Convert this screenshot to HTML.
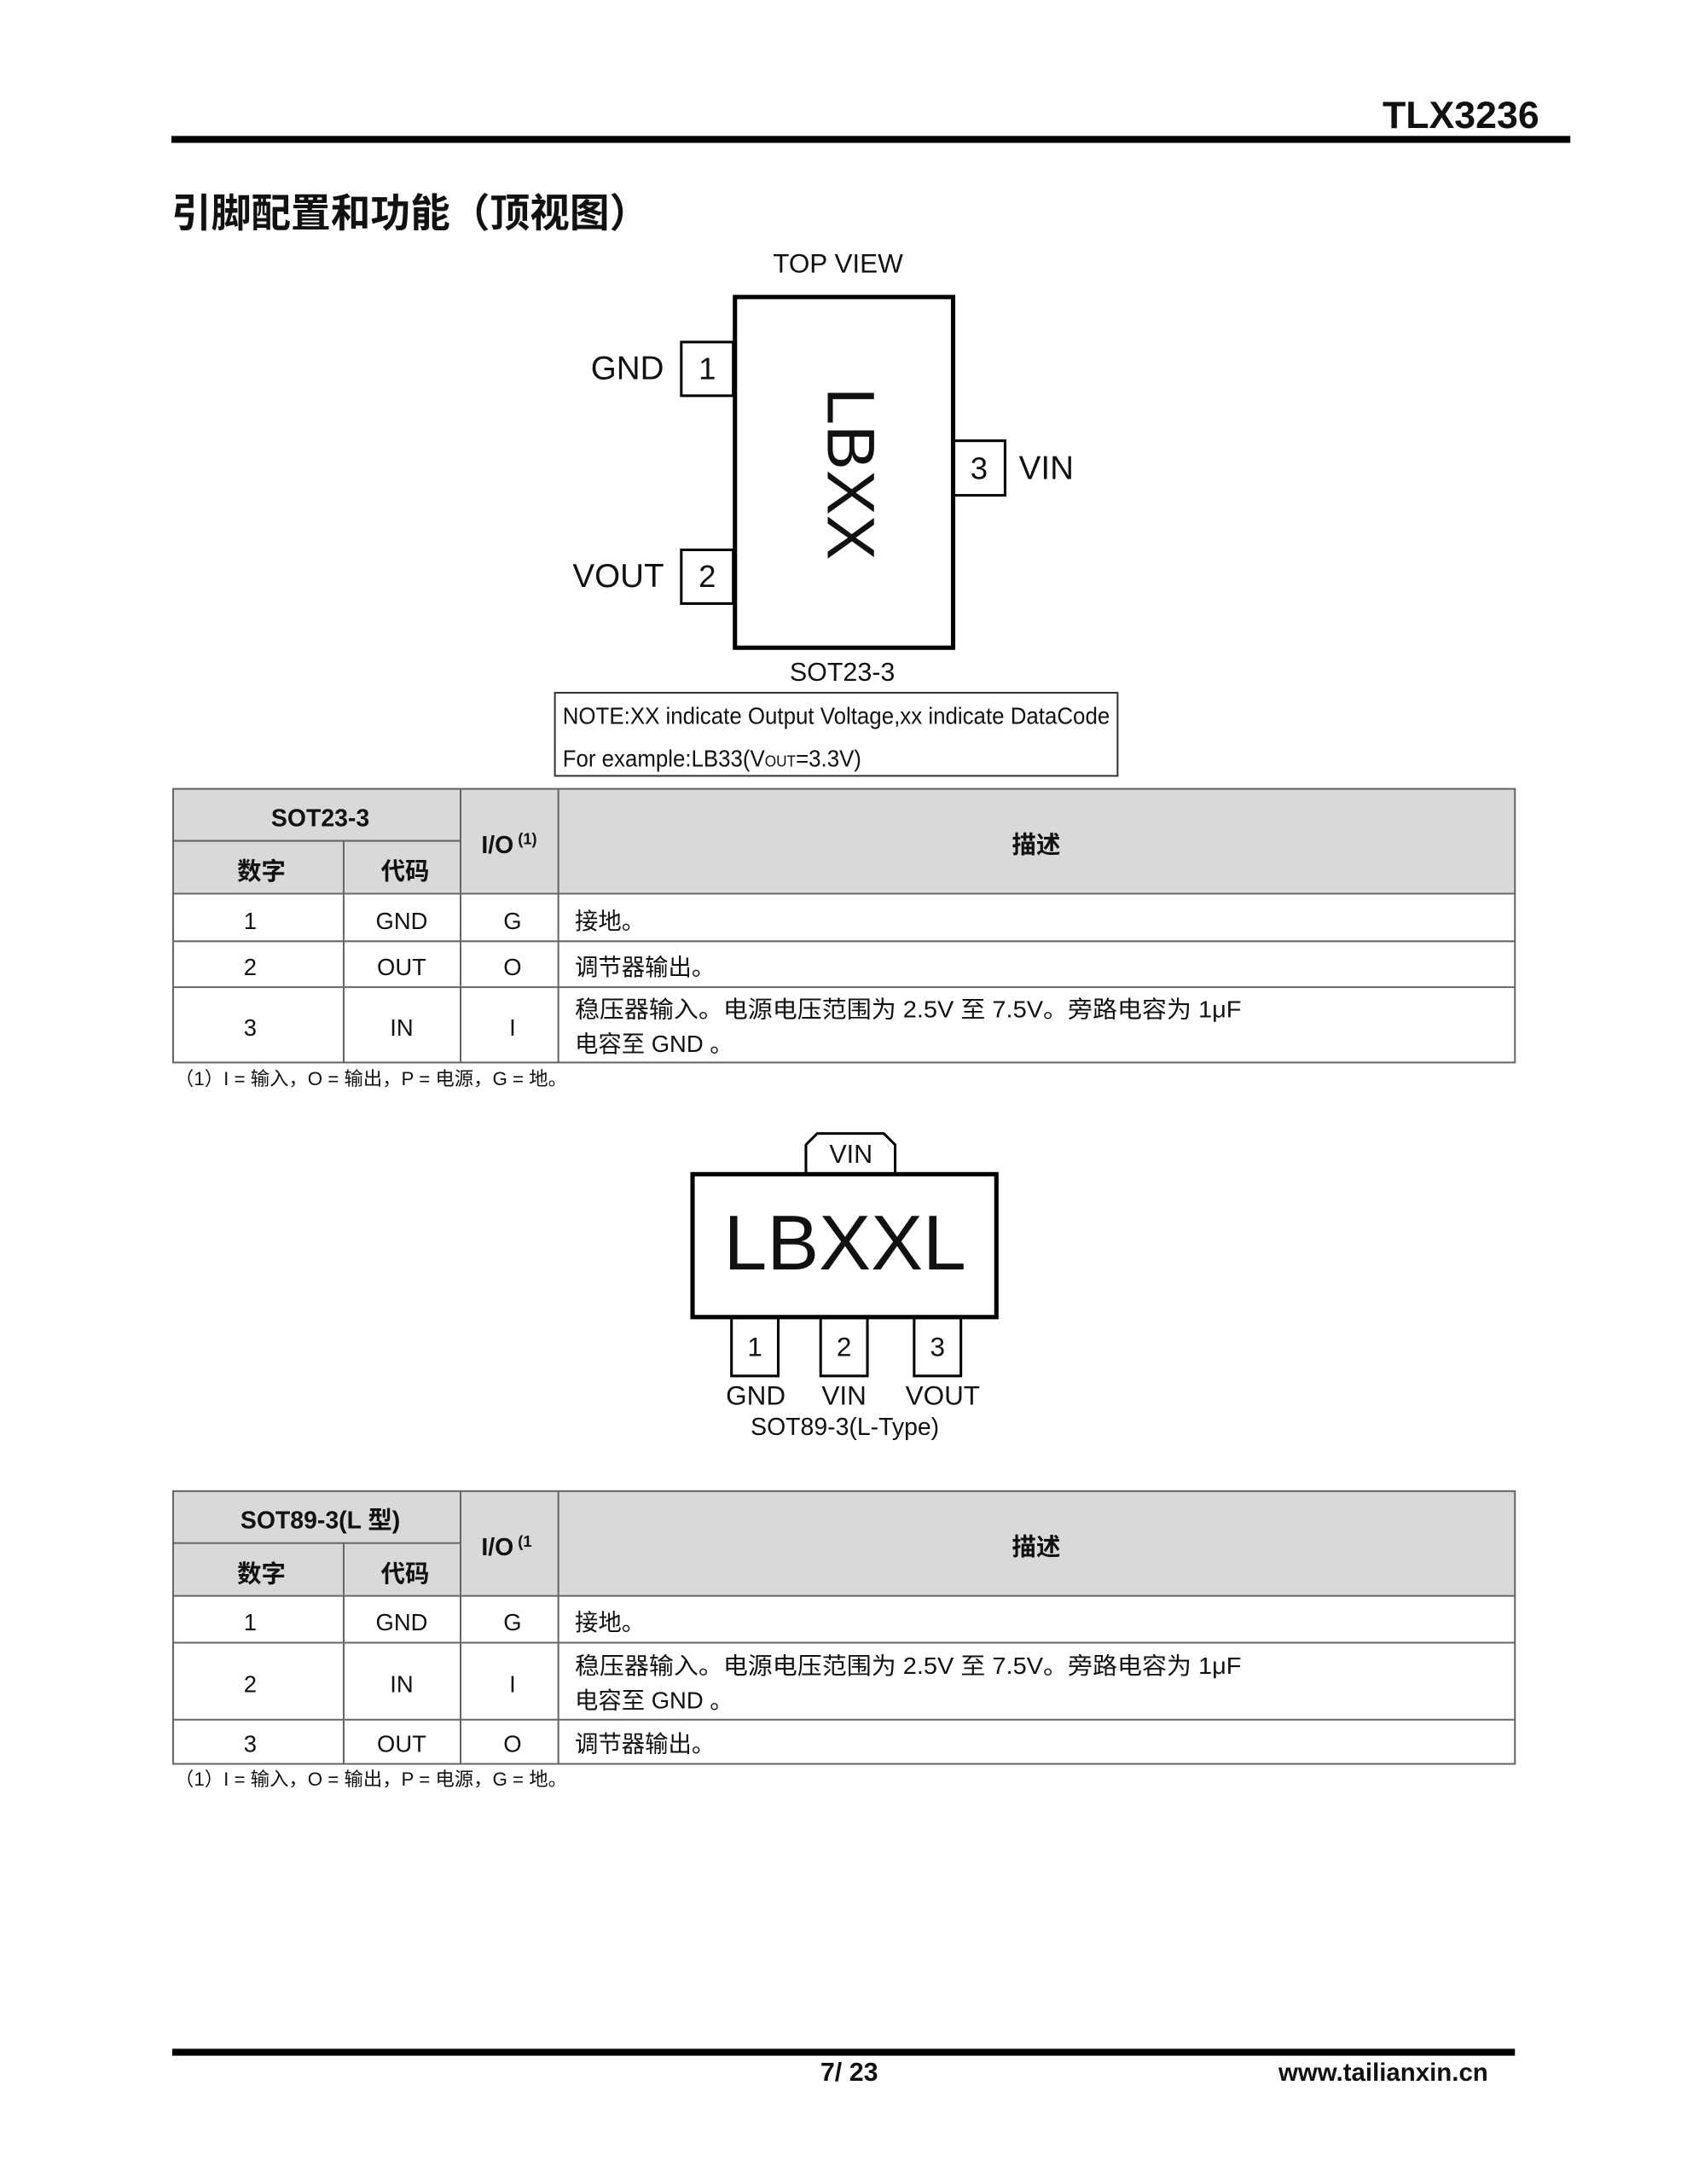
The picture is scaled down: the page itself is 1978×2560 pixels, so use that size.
<!DOCTYPE html>
<html><head><meta charset="utf-8"><style>
html,body{margin:0;padding:0;background:#fff}
svg{display:block}
text{font-family:"Liberation Sans","Noto Sans CJK SC",sans-serif;fill:#111}
.b{font-weight:bold}
</style></head><body>
<svg width="1978" height="2560" viewBox="0 0 1978 2560" xmlns="http://www.w3.org/2000/svg">
<g transform="scale(1.015)">
<!-- header -->
<text x="1778" y="148" font-size="44" class="b" text-anchor="end">TLX3236</text>
<rect x="198" y="157" width="1616" height="8" fill="#000"/>
<text x="198" y="262" font-size="46" class="b">引脚配置和功能（顶视图）</text>

<!-- SOT23 diagram -->
<text x="968" y="315" font-size="31" text-anchor="middle">TOP VIEW</text>
<rect x="787" y="395" width="60" height="62" fill="#fff" stroke="#000" stroke-width="3"/>
<rect x="787" y="635" width="60" height="62" fill="#fff" stroke="#000" stroke-width="3"/>
<rect x="1101" y="509" width="60" height="63" fill="#fff" stroke="#000" stroke-width="3"/>
<rect x="849" y="343" width="252" height="405" fill="#fff" stroke="#000" stroke-width="5"/>
<text x="817" y="438" font-size="36" text-anchor="middle">1</text>
<text x="817" y="678" font-size="36" text-anchor="middle">2</text>
<text x="1131" y="553" font-size="36" text-anchor="middle">3</text>
<text x="767" y="438" font-size="38" text-anchor="end">GND</text>
<text x="767" y="678" font-size="38" text-anchor="end">VOUT</text>
<text x="1177" y="553" font-size="38">VIN</text>
<text x="0" y="0" font-size="78" text-anchor="middle" transform="translate(956,547) rotate(90)">LBXX</text>
<text x="973" y="786" font-size="30" text-anchor="middle">SOT23-3</text>
<rect x="641" y="800" width="650" height="96" fill="#fff" stroke="#333" stroke-width="2"/>
<text x="650" y="836" font-size="27" textLength="632" lengthAdjust="spacingAndGlyphs">NOTE:XX indicate Output Voltage,xx indicate DataCode</text>
<text x="650" y="885" font-size="27" textLength="345" lengthAdjust="spacingAndGlyphs">For example:LB33(V<tspan font-size="18">OUT</tspan>=3.3V)</text>

<!-- table 1 -->
<g>
<rect x="200" y="911" width="1550" height="121" fill="#d9d9d9"/>
<g stroke="#666" stroke-width="2" fill="none">
<rect x="200" y="911" width="1550" height="316"/>
<line x1="200" y1="971" x2="532" y2="971"/>
<line x1="200" y1="1032" x2="1750" y2="1032"/>
<line x1="200" y1="1087" x2="1750" y2="1087"/>
<line x1="200" y1="1140" x2="1750" y2="1140"/>
<line x1="397" y1="971" x2="397" y2="1227"/>
<line x1="532" y1="911" x2="532" y2="1227"/>
<line x1="645" y1="911" x2="645" y2="1227"/>
</g>
<text x="370" y="954" font-size="28" class="b" text-anchor="middle">SOT23-3</text>
<text x="302" y="1016" font-size="28" class="b" text-anchor="middle">数字</text>
<text x="468" y="1016" font-size="28" class="b" text-anchor="middle">代码</text>
<text x="556" y="985" font-size="28" class="b">I/O<tspan font-size="18" dy="-10"> (1)</tspan></text>
<text x="1197" y="985" font-size="28" class="b" text-anchor="middle">描述</text>
<text x="289" y="1073" font-size="27" text-anchor="middle">1</text>
<text x="464" y="1073" font-size="27" text-anchor="middle">GND</text>
<text x="592" y="1073" font-size="27" text-anchor="middle">G</text>
<text x="664" y="1073" font-size="27">接地。</text>
<text x="289" y="1126" font-size="27" text-anchor="middle">2</text>
<text x="464" y="1126" font-size="27" text-anchor="middle">OUT</text>
<text x="592" y="1126" font-size="27" text-anchor="middle">O</text>
<text x="664" y="1126" font-size="27">调节器输出。</text>
<text x="289" y="1196" font-size="27" text-anchor="middle">3</text>
<text x="464" y="1196" font-size="27" text-anchor="middle">IN</text>
<text x="592" y="1196" font-size="27" text-anchor="middle">I</text>
<text x="664" y="1175" font-size="27" textLength="770" lengthAdjust="spacingAndGlyphs">稳压器输入。电源电压范围为 2.5V 至 7.5V。旁路电容为 1μF</text>
<text x="664" y="1215" font-size="27">电容至 GND 。</text>
</g>
<text x="202" y="1253" font-size="22">（1）I = 输入，O = 输出，P = 电源，G = 地。</text>

<!-- SOT89 diagram -->
<path d="M931,1354 L931,1322 L944,1309 L1021,1309 L1034,1322 L1034,1354" fill="#fff" stroke="#000" stroke-width="3"/>
<text x="983" y="1343" font-size="30" text-anchor="middle">VIN</text>
<rect x="845" y="1522" width="54" height="67" fill="#fff" stroke="#000" stroke-width="3"/>
<rect x="948" y="1522" width="54" height="67" fill="#fff" stroke="#000" stroke-width="3"/>
<rect x="1056" y="1522" width="54" height="67" fill="#fff" stroke="#000" stroke-width="3"/>
<rect x="800" y="1356" width="351" height="165" fill="#fff" stroke="#000" stroke-width="5"/>
<text x="976" y="1466" font-size="90" text-anchor="middle">LBXXL</text>
<text x="872" y="1566" font-size="31" text-anchor="middle">1</text>
<text x="975" y="1566" font-size="31" text-anchor="middle">2</text>
<text x="1083" y="1566" font-size="31" text-anchor="middle">3</text>
<text x="873" y="1622" font-size="31" text-anchor="middle">GND</text>
<text x="975" y="1622" font-size="31" text-anchor="middle">VIN</text>
<text x="1089" y="1622" font-size="31" text-anchor="middle">VOUT</text>
<text x="976" y="1657" font-size="28" text-anchor="middle">SOT89-3(L-Type)</text>

<!-- table 2 -->
<g>
<rect x="200" y="1722" width="1550" height="121" fill="#d9d9d9"/>
<g stroke="#666" stroke-width="2" fill="none">
<rect x="200" y="1722" width="1550" height="315"/>
<line x1="200" y1="1782" x2="532" y2="1782"/>
<line x1="200" y1="1843" x2="1750" y2="1843"/>
<line x1="200" y1="1897" x2="1750" y2="1897"/>
<line x1="200" y1="1986" x2="1750" y2="1986"/>
<line x1="397" y1="1782" x2="397" y2="2037"/>
<line x1="532" y1="1722" x2="532" y2="2037"/>
<line x1="645" y1="1722" x2="645" y2="2037"/>
</g>
<text x="370" y="1765" font-size="28" class="b" text-anchor="middle">SOT89-3(L 型)</text>
<text x="302" y="1827" font-size="28" class="b" text-anchor="middle">数字</text>
<text x="468" y="1827" font-size="28" class="b" text-anchor="middle">代码</text>
<text x="556" y="1796" font-size="28" class="b">I/O<tspan font-size="18" dy="-10"> (1</tspan></text>
<text x="1197" y="1796" font-size="28" class="b" text-anchor="middle">描述</text>
<text x="289" y="1883" font-size="27" text-anchor="middle">1</text>
<text x="464" y="1883" font-size="27" text-anchor="middle">GND</text>
<text x="592" y="1883" font-size="27" text-anchor="middle">G</text>
<text x="664" y="1883" font-size="27">接地。</text>
<text x="289" y="1954" font-size="27" text-anchor="middle">2</text>
<text x="464" y="1954" font-size="27" text-anchor="middle">IN</text>
<text x="592" y="1954" font-size="27" text-anchor="middle">I</text>
<text x="664" y="1933" font-size="27" textLength="770" lengthAdjust="spacingAndGlyphs">稳压器输入。电源电压范围为 2.5V 至 7.5V。旁路电容为 1μF</text>
<text x="664" y="1973" font-size="27">电容至 GND 。</text>
<text x="289" y="2023" font-size="27" text-anchor="middle">3</text>
<text x="464" y="2023" font-size="27" text-anchor="middle">OUT</text>
<text x="592" y="2023" font-size="27" text-anchor="middle">O</text>
<text x="664" y="2023" font-size="27">调节器输出。</text>
</g>
<text x="202" y="2062" font-size="22">（1）I = 输入，O = 输出，P = 电源，G = 地。</text>

<!-- footer -->
<rect x="199" y="2366" width="1551" height="8" fill="#000"/>
<text x="981" y="2403" font-size="30" class="b" text-anchor="middle">7/ 23</text>
<text x="1719" y="2403" font-size="29" class="b" text-anchor="end">www.tailianxin.cn</text>
</g>
</svg>
</body></html>
